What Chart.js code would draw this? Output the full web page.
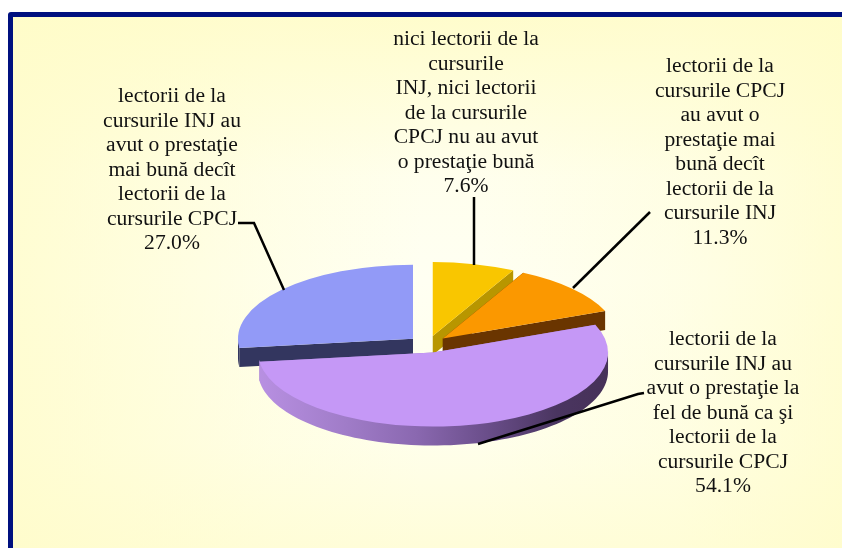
<!DOCTYPE html>
<html><head><meta charset="utf-8">
<script src="https://cdn.jsdelivr.net/npm/chart.js@4/dist/chart.umd.js"></script>
<style>
html,body{margin:0;padding:0;background:#fff;overflow:hidden}
#wrap{position:absolute;left:0;top:0;width:842px;height:548px;overflow:hidden}
#frame{position:absolute;left:8px;top:12px;width:860px;height:580px;box-sizing:border-box;border:5px solid #00107f;border-radius:3px;
background:
linear-gradient(to right,rgba(255,252,200,.75),rgba(255,253,210,.3) 30%,rgba(255,255,240,0) 48%,rgba(255,255,240,0) 55%,rgba(255,253,210,.35) 78%,rgba(255,252,200,.75)),
linear-gradient(to bottom,rgba(255,252,200,.9),rgba(255,254,225,.3) 28%,rgba(255,255,240,0) 46%,rgba(255,254,225,.45) 75%,rgba(255,252,205,.85)),
#fffff2}
canvas{position:absolute;left:0;top:0}
</style></head><body>
<div id="wrap"><div id="frame"></div><canvas id="c" width="842" height="548"></canvas></div>
<script>
const categories = [
  ["nici lectorii de la","cursurile","INJ, nici lectorii","de la cursurile","CPCJ nu au avut","o prestaţie bună"],
  ["lectorii de la","cursurile CPCJ","au avut o","prestaţie mai","bună decît","lectorii de la","cursurile INJ"],
  ["lectorii de la","cursurile INJ au","avut o prestaţie la","fel de bună ca şi","lectorii de la","cursurile CPCJ"],
  ["lectorii de la","cursurile INJ au","avut o prestaţie","mai bună decît","lectorii de la","cursurile CPCJ"]
];
const seriesValues = [7.6, 11.3, 54.1, 27.0];
const topColors = ["#f9c600","#fb9800","#c598f6","#929af7"];
const sideColors = ["#b89600","#6a3500","#9a78c0","#33365f"];
const labelCenters = [[466,45],[720,72],[723,345],[172,102]];
const leaders = [
  [[474,197],[474,265]],
  [[650,212],[573,288]],
  [[644,393],[638,394],[478,444]],
  [[238,223],[254,223],[284,290]]
];
const SQUASH = 0.423, DEPTH = 19, LINE = 24.5, EXPLODE = 20;

const pie3d = {
  id:'pie3d',
  beforeDatasetsDraw(chart){
    const ctx = chart.ctx, arcs = chart.getDatasetMeta(0).data;
    const cy = arcs[0].y;
    const py = y => cy + (y-cy)*SQUASH;
    const shift = a => {
      const mid = (a.startAngle+a.endAngle)/2;
      return [Math.cos(mid)*EXPLODE, Math.sin(mid)*EXPLODE];
    };
    [3,0,1,2].forEach(i=>{
      const a = arcs[i], r = a.outerRadius, d = shift(a);
      const ox = a.x + d[0], oy = a.y + d[1];
      const pt = t => [ox+Math.cos(t)*r, py(oy+Math.sin(t)*r)];
      const apex = [ox, py(oy)];
      ctx.save();
      ctx.fillStyle = sideColors[i];
      [a.startAngle,a.endAngle].forEach(t=>{
        const p = pt(t);
        ctx.beginPath();
        ctx.moveTo(apex[0],apex[1]);ctx.lineTo(p[0],p[1]);
        ctx.lineTo(p[0],p[1]+DEPTH);ctx.lineTo(apex[0],apex[1]+DEPTH);
        ctx.closePath();ctx.fill();
      });
      const from = Math.max(a.startAngle,0), to = Math.min(a.endAngle,Math.PI);
      if (to>from){
        if (i===2){
          const g = ctx.createLinearGradient(258,0,610,0);
          g.addColorStop(0,'#b890e2');g.addColorStop(.25,'#a07cc8');g.addColorStop(.45,'#8a68b0');
          g.addColorStop(.65,'#6a4e8a');g.addColorStop(.85,'#4a3560');g.addColorStop(1,'#463158');
          ctx.fillStyle = g;
        }
        ctx.beginPath();
        const n = 80;
        // the wall starts slightly under the top face so no seam of background shows
        for(let k=0;k<=n;k++){const p=pt(from+(to-from)*k/n); k?ctx.lineTo(p[0],p[1]-2):ctx.moveTo(p[0],p[1]-2);}
        for(let k=n;k>=0;k--){const p=pt(from+(to-from)*k/n); ctx.lineTo(p[0],p[1]+DEPTH);}
        ctx.closePath();ctx.fill();
      }
      ctx.restore();
    });
    arcs.forEach(a=>{
      const d = shift(a);
      ctx.save();
      ctx.translate(0,cy);ctx.scale(1,SQUASH);ctx.translate(0,-cy);
      ctx.translate(d[0],d[1]);
      a.draw(ctx);
      ctx.restore();
    });
    return false;
  },
  afterDraw(chart){
    const ctx = chart.ctx;
    ctx.save();
    ctx.strokeStyle='#000';ctx.lineWidth=2.5;
    leaders.forEach(l=>{
      ctx.beginPath();
      l.forEach((p,k)=>k?ctx.lineTo(p[0],p[1]):ctx.moveTo(p[0],p[1]));
      ctx.stroke();
    });
    ctx.fillStyle='#111';ctx.textAlign='center';ctx.textBaseline='alphabetic';
    ctx.font='21.6px "Liberation Serif"';
    categories.forEach((lines,i)=>{
      const all = lines.concat(seriesValues[i].toFixed(1)+'%');
      all.forEach((t,k)=>ctx.fillText(t,labelCenters[i][0],labelCenters[i][1]+k*LINE));
    });
    ctx.restore();
  }
};

new Chart(document.getElementById('c'),{
  type:'pie',
  data:{labels:categories.map(c=>c.join(' ')),datasets:[{
    data:seriesValues,backgroundColor:topColors,borderWidth:0,radius:175
  }]},
  options:{responsive:false,animation:false,
    layout:{padding:{left:14,top:140.6}},
    plugins:{legend:{display:false},tooltip:{enabled:false},title:{display:false}}},
  plugins:[pie3d]
});
</script>
</body></html>
